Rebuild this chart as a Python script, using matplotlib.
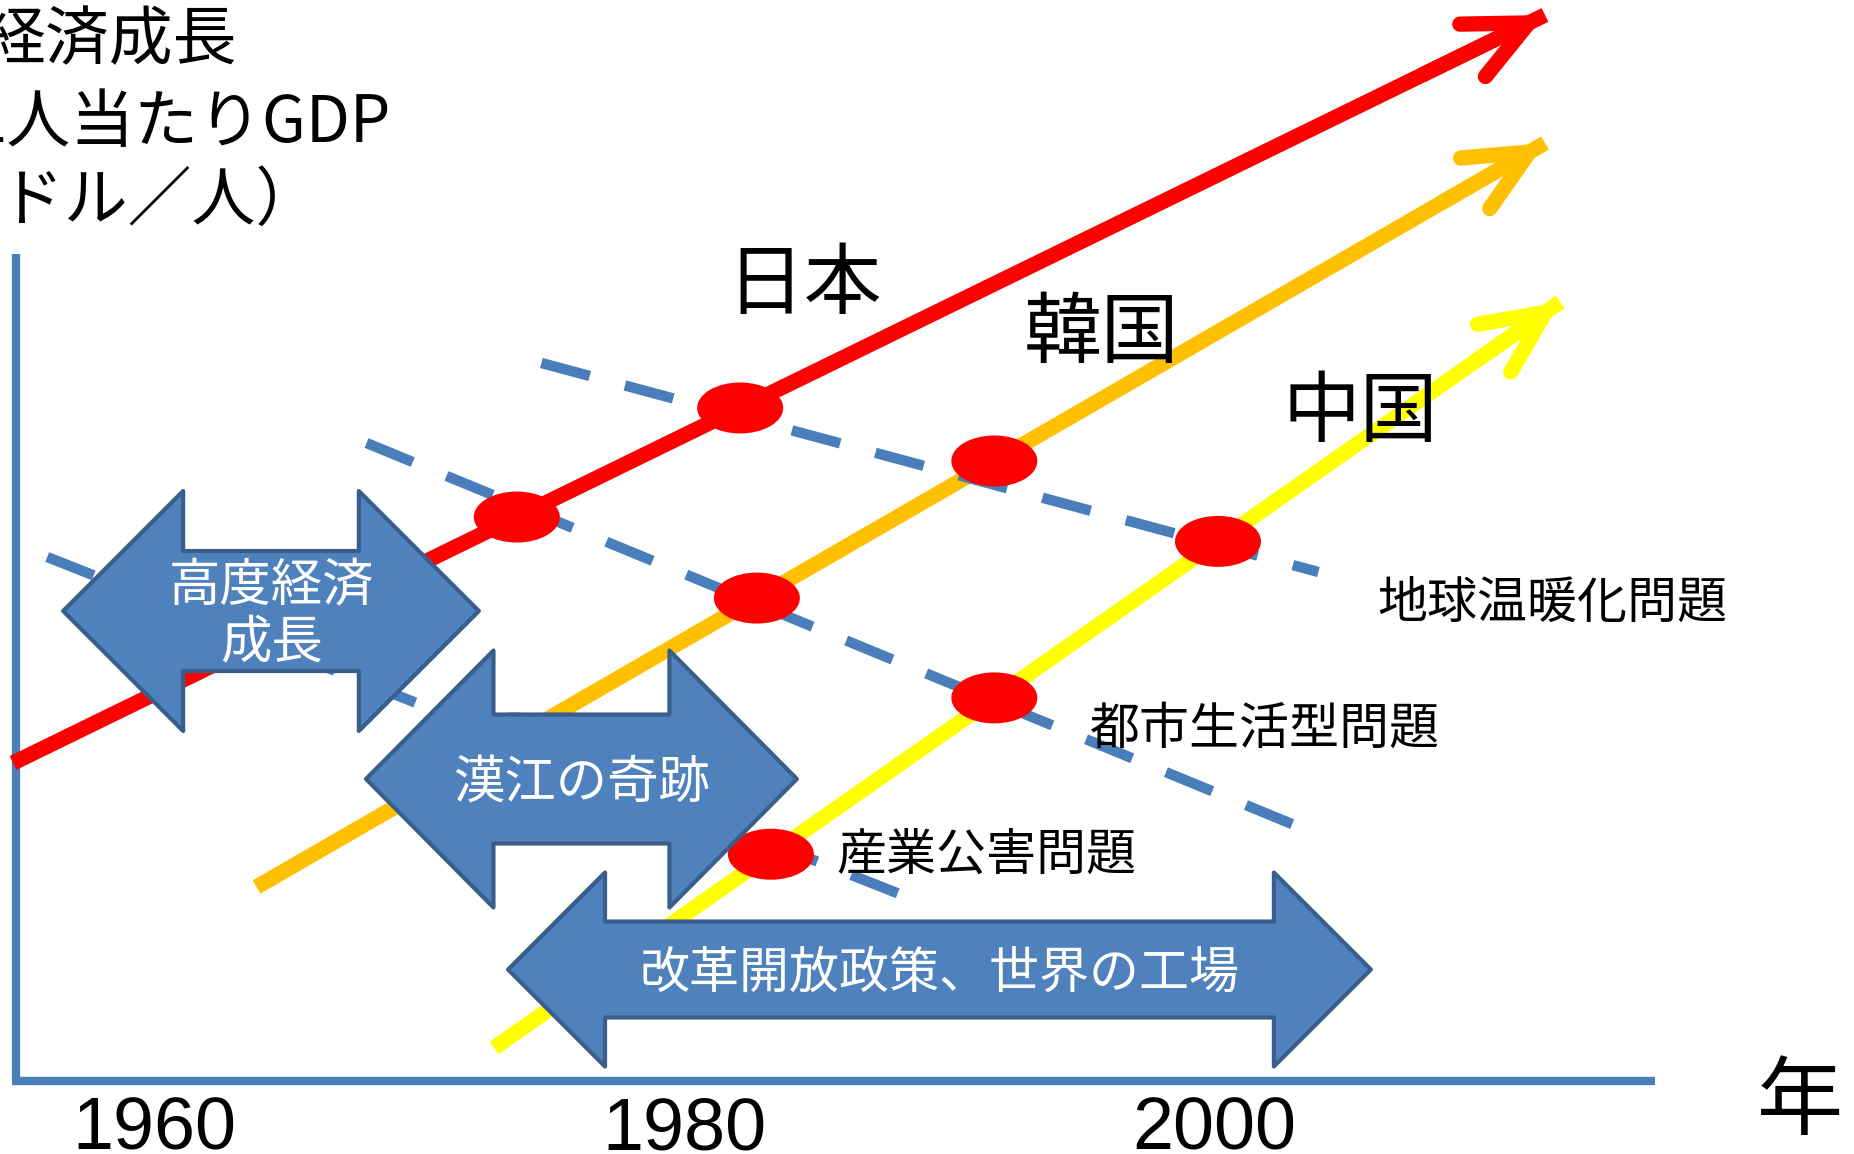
import matplotlib
matplotlib.use('Agg')
import matplotlib.pyplot as plt
from matplotlib.patches import Ellipse, Polygon
import numpy as np

plt.rcParams['font.family'] = ['Noto Sans CJK JP', 'DejaVu Sans']

# 国別の成長線 (年, 水準)
countries = ['日本', '韓国', '中国']
line_start_year = [1954.68, 1963.87, 1972.83]
line_start_level = [31.8, 19.4, 3.3]
line_end_year = [2012.49, 2012.49, 2013.06]
line_end_level = [106.6, 93.8, 77.9]
country_label_year = [1984.53, 1995.77, 2005.51]
country_label_level = [79.5, 74.6, 66.7]

# 各国が各問題に直面した年 (温暖化, 都市生活型, 産業公害)
event_years = [[1982.12, 1973.69, 1964.32],
               [1991.71, 1982.75, 1973.6],
               [2000.15, 1991.71, 1983.28]]

# 環境問題の段階 (破線)
problems = ['地球温暖化問題', '都市生活型問題', '産業公害問題']
problem_start_year = [1974.62, 1968.02, 1955.97]
problem_start_level = [71.8, 63.8, 52.4]
problem_end_year = [2003.94, 2003.49, 1988.99]
problem_end_level = [50.9, 25.1, 17.8]
problem_label_year = [2006.15, 1995.32, 1985.74]
problem_label_level = [47.7, 35.1, 22.5]

# 発展期 (両矢印)
periods = ['高度経済\n成長', '漢江の奇跡', '改革開放政策、世界の工場']
period_start = [1956.57, 1968.0, 1973.36]
period_end = [1972.26, 1984.26, 2005.92]
period_level = [47.0, 30.2, 11.15]

year_ticks = [1960, 1980, 2000]
ylabel_lines = ['経済成長', '1人当たりGDP', '（ドル／人）']

# --- スタイル -------------------------------------------------
line_colors = ['#FF0000', '#FFC000', '#FFFF00']
blue = '#4F81BD'
blue_edge = '#3A5E8C'
axis_blue = '#4A7EBB'
shaft_half = [6.0, 6.45, 4.8]
head_half = [12.0, 12.85, 9.7]
head_len = [4.53, 4.81, 3.66]
period_fs = [37, 37, 36]

fig = plt.figure(figsize=(18.54, 11.54), dpi=100)
ax = fig.add_axes([0, 0, 1, 1])
ax.set_xlim(1960 - 154 / 26.5, 1960 + (1854 - 154) / 26.5)
ax.set_ylim(-7.3, 108.1)
ax.axis('off')

# 軸
ax.plot([1954.81, 1954.81], [0, 82.7], color=axis_blue, lw=6, solid_capstyle='butt', zorder=1)
ax.plot([1954.64, 2016.64], [0, 0], color=axis_blue, lw=6, solid_capstyle='butt', zorder=1)

# 成長線
for i in range(3):
    x0, y0 = line_start_year[i], line_start_level[i]
    x1, y1 = line_end_year[i], line_end_level[i]
    ax.plot([x0, x1], [y0, y1], color=line_colors[i], lw=11, solid_capstyle='butt', zorder=2)
    ax.annotate('', xy=(x1, y1), xytext=(x1 - (x1 - x0) * 0.08, y1 - (y1 - y0) * 0.08),
                arrowprops=dict(arrowstyle='->,head_length=45,head_width=21', mutation_scale=1,
                                lw=11, color=line_colors[i], shrinkA=0, shrinkB=0,
                                capstyle='round', joinstyle='miter'), zorder=2)
    ax.text(country_label_year[i], country_label_level[i], countries[i], fontsize=56,
            ha='center', va='center', zorder=6)
    # 問題に直面した点
    slope = (y1 - y0) / (x1 - x0)
    for t in event_years[i]:
        ax.add_patch(Ellipse((t, y0 + slope * (t - x0)), 86 / 26.5, 5.1, facecolor='#FF0000',
                             edgecolor='none', zorder=4))

# 破線
for j in range(3):
    ax.plot([problem_start_year[j], problem_end_year[j]], [problem_start_level[j], problem_end_level[j]],
            color=axis_blue, lw=7.5, dashes=(4.8, 3.5), dash_capstyle='butt', zorder=3)
    ax.text(problem_label_year[j], problem_label_level[j], problems[j], fontsize=36,
            ha='left', va='center', zorder=6)

# 両矢印
for k in range(3):
    x0, x1, yc = period_start[k], period_end[k], period_level[k]
    hl, hh, sh = head_len[k], head_half[k], shaft_half[k]
    pts = [(x0, yc), (x0 + hl, yc + hh), (x0 + hl, yc + sh), (x1 - hl, yc + sh), (x1 - hl, yc + hh),
           (x1, yc), (x1 - hl, yc - hh), (x1 - hl, yc - sh), (x0 + hl, yc - sh), (x0 + hl, yc - hh)]
    ax.add_patch(Polygon(pts, closed=True, facecolor=blue, edgecolor=blue_edge, lw=3,
                         joinstyle='round', zorder=5))
    ax.text((x0 + x1) / 2, yc - 0.4, periods[k], color='white', fontsize=period_fs[k], ha='center',
            va='center', linespacing=1.1, zorder=6)

# 軸ラベル
for n in year_ticks:
    ax.text(n, -6.8, str(n), fontsize=53, family='Liberation Sans', ha='center', va='baseline')
ax.text(2022.11, -2.3, '年', fontsize=62, ha='center', va='center')
ax.text(1953.5, 104.0, ylabel_lines[0], fontsize=46, ha='left', va='center')
ax.text(1953.1, 95.7, ylabel_lines[1], fontsize=46, ha='left', va='center')
ax.text(1951.8, 87.9, ylabel_lines[2], fontsize=46, ha='left', va='center')

fig.savefig('out.png', dpi=100)
